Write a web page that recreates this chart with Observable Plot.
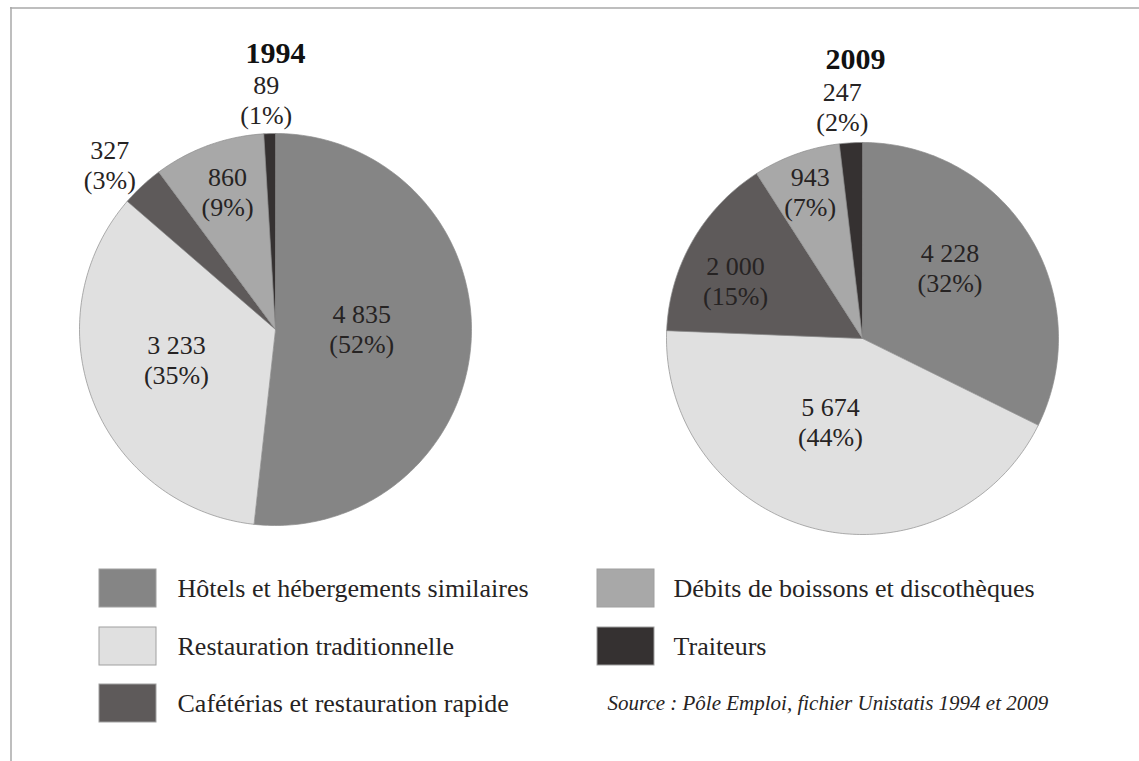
<!DOCTYPE html>
<html>
<head>
<meta charset="utf-8">
<script src="https://cdn.jsdelivr.net/npm/d3@7"></script>
<script src="https://cdn.jsdelivr.net/npm/@observablehq/plot@0.6"></script>
<style>
  html, body { margin: 0; padding: 0; background: #fff; }
  #chart svg { display: block; }
  #chart svg text { font-family: "Liberation Serif", "Times New Roman", serif; }
</style>
</head>
<body>
<div id="chart"></div>
<script>
// ---------- data ----------
const categories = [
  "Hôtels et hébergements similaires",
  "Restauration traditionnelle",
  "Cafétérias et restauration rapide",
  "Débits de boissons et discothèques",
  "Traiteurs"
];
const colors = ["#858585", "#e0e0e0", "#5e5a5a", "#a8a8a8", "#353131"];
const years = ["1994", "2009"];
const values1994 = [4835, 3233, 327, 860, 89];
const values2009 = [4228, 5674, 2000, 943, 247];
const pct1994 = [52, 35, 3, 9, 1];
const pct2009 = [32, 44, 15, 7, 2];
const sourceText = "Source : Pôle Emploi, fichier Unistatis 1994 et 2009";

// ---------- layout ----------
const W = 1139, H = 761;
const FONT = "Liberation Serif";
const TEXT = "#262323";
const pies = [
  {cx: 275, cy: 329, r: 196, titleDx: 0, titleDy: -276},
  {cx: 862, cy: 338, r: 196, titleDx: -7, titleDy: -279}
];
// [angle shift (deg) from slice mid-angle, radius fraction]
const labelLayout = [
  [[-3, 0.44], [4, 0.53], [-2.4, 1.19], [0.7, 0.74], [-0.6, 1.17]],
  [[-6.6, 0.57], [6.6, 0.46], [-5.6, 0.71], [0, 0.79], [-1.6, 1.18]]
];
const legendCols = [{sx: 99, tx: 177}, {sx: 597, tx: 673}];
const legendRows = [588, 646, 703];
const swW = 57, swH = 38;

// ---------- build ----------
const fr = d3.formatLocale({decimal: ",", thousands: " ", grouping: [3], currency: ["", " €"]});
const fmt = fr.format(",d");
const seriesValues = [values1994, values2009];
const seriesPct = [pct1994, pct2009];

const marks = [];
const valueLabels = [];
const pctLabels = [];
const titles = [];
const LINE = 30;

seriesValues.forEach((vals, p) => {
  const {cx, cy, r} = pies[p];
  const arcs = d3.pie().sort(null).value(d => d)(vals);
  arcs.forEach((a, i) => {
    const pts = [{x: cx, y: cy}];
    const n = Math.max(2, Math.ceil((a.endAngle - a.startAngle) / (Math.PI / 180)));
    for (let k = 0; k <= n; k++) {
      const t = a.startAngle + (a.endAngle - a.startAngle) * k / n;
      pts.push({x: cx + r * Math.sin(t), y: cy - r * Math.cos(t)});
    }
    marks.push(Plot.line(pts, {
      x: "x", y: "y", curve: "linear-closed",
      fill: colors[i], stroke: "#8c8c8c", strokeWidth: 0.7
    }));
    const [shift, frac] = labelLayout[p][i];
    const mid = (a.startAngle + a.endAngle) / 2 + shift * Math.PI / 180;
    const lx = cx + frac * r * Math.sin(mid);
    const ly = cy - frac * r * Math.cos(mid);
    valueLabels.push({x: lx, y: ly - LINE / 2, text: fmt(vals[i])});
    pctLabels.push({x: lx, y: ly + LINE / 2, text: "(" + seriesPct[p][i] + "%)"});
  });
  titles.push({x: cx + pies[p].titleDx, y: cy + pies[p].titleDy, text: years[p]});
});

const legend = categories.map((c, i) => {
  const col = i < 3 ? 0 : 1;
  const row = i < 3 ? i : i - 3;
  return {
    name: c, color: colors[i],
    sx: legendCols[col].sx, tx: legendCols[col].tx, y: legendRows[row]
  };
});

const plot = Plot.plot({
  width: W, height: H,
  margin: 0,
  x: {domain: [0, W], range: [0, W], axis: null},
  y: {domain: [0, H], range: [0, H], axis: null},
  style: {background: "#fff", fontFamily: FONT},
  marks: [
    Plot.ruleY([7.5], {x1: 10, x2: W, stroke: "#a9a9a9", strokeWidth: 1.5}),
    Plot.ruleX([10.5], {y1: 7, y2: H, stroke: "#a9a9a9", strokeWidth: 1.5}),
    ...marks,
    Plot.text(valueLabels, {
      x: "x", y: "y", text: "text",
      fontSize: 26, fontFamily: FONT, fill: TEXT
    }),
    Plot.text(pctLabels, {
      x: "x", y: "y", text: "text",
      fontSize: 26, fontFamily: FONT, fill: TEXT
    }),
    Plot.text(titles, {
      x: "x", y: "y", text: "text",
      fontSize: 30, fontWeight: "bold", fontFamily: FONT, fill: "#111"
    }),
    Plot.rect(legend, {
      x1: "sx", x2: d => d.sx + swW,
      y1: d => d.y - swH / 2, y2: d => d.y + swH / 2,
      fill: "color", stroke: "#a0a0a0", strokeWidth: 1
    }),
    Plot.text(legend, {
      x: "tx", y: "y", text: "name", textAnchor: "start",
      fontSize: 26, fontFamily: FONT, fill: TEXT
    }),
    Plot.text([sourceText], {
      x: 607, y: 703, text: d => d, textAnchor: "start",
      fontSize: 21, fontStyle: "italic", fontFamily: FONT, fill: TEXT
    })
  ]
});
document.getElementById("chart").appendChild(plot);
</script>
</body>
</html>
